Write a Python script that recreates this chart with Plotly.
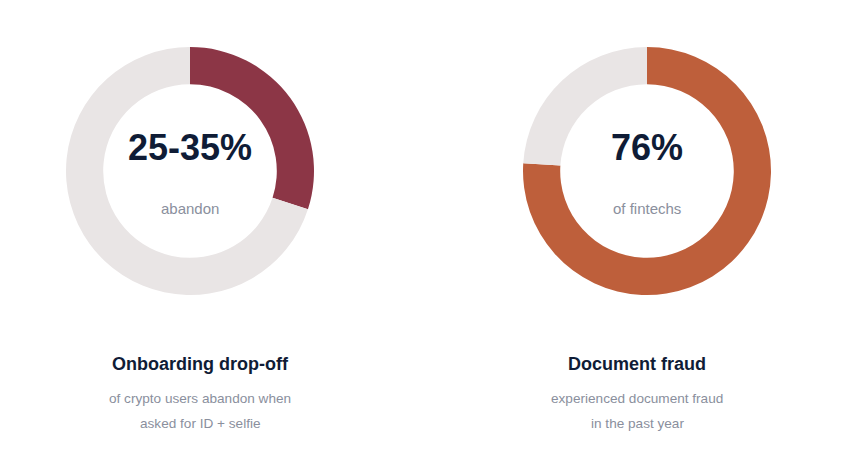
import plotly.graph_objects as go

# Data
titles = ["Onboarding drop-off", "Document fraud"]
center_values = ["25-35%", "76%"]
center_labels = ["abandon", "of fintechs"]
captions = [["of crypto users abandon when", "asked for ID + selfie"],
            ["experienced document fraud", "in the past year"]]
filled_values = [30, 76]
slice_labels = ["Share", "Rest"]
fill_colors = ["#8C3646", "#BE5F3B"]
rest_color = "#E9E5E5"

# page body has an 8px margin; figure sized to fit inside the window
OFF = 8
W, H = 857 - 2 * OFF, 470 - 2 * OFF
donut_x = [190, 647]
text_x = [200, 637]
center_y = 171
radius = 124

fig = go.Figure()
for i in range(2):
    cx = donut_x[i] - OFF
    cy = center_y - OFF
    fig.add_trace(go.Pie(
        labels=slice_labels,
        values=[filled_values[i], 100 - filled_values[i]],
        hole=0.70,
        sort=False,
        direction="clockwise",
        rotation=0,
        textinfo="none",
        hoverinfo="skip",
        showlegend=False,
        marker=dict(colors=[fill_colors[i], rest_color], line=dict(width=0)),
        domain=dict(x=[(cx - radius) / W, (cx + radius) / W],
                    y=[1 - (cy + radius) / H, 1 - (cy - radius) / H]),
    ))

annotations = []
font_family = "Liberation Sans, Arial, Helvetica, sans-serif"
navy = "#0F1C36"
grey = "#8A8F9D"


def ann(x, y, text, size, color):
    return dict(x=(x - OFF) / W, y=1 - (y - OFF) / H, xref="paper", yref="paper",
                xanchor="center", yanchor="middle", text=text, showarrow=False,
                font=dict(family=font_family, size=size, color=color))


for i in range(2):
    annotations.append(ann(donut_x[i], 148, "<b>" + center_values[i] + "</b>", 36, navy))
    annotations.append(ann(donut_x[i], 208, center_labels[i], 15, grey))
    annotations.append(ann(text_x[i], 364, "<b>" + titles[i] + "</b>", 18, navy))
    for j, line in enumerate(captions[i]):
        annotations.append(ann(text_x[i], 398 + 25 * j, line, 13.6, grey))

fig.update_layout(
    width=W, height=H,
    margin=dict(l=0, r=0, t=0, b=0),
    paper_bgcolor="white",
    plot_bgcolor="white",
    annotations=annotations,
)

fig.write_html("out.html")
